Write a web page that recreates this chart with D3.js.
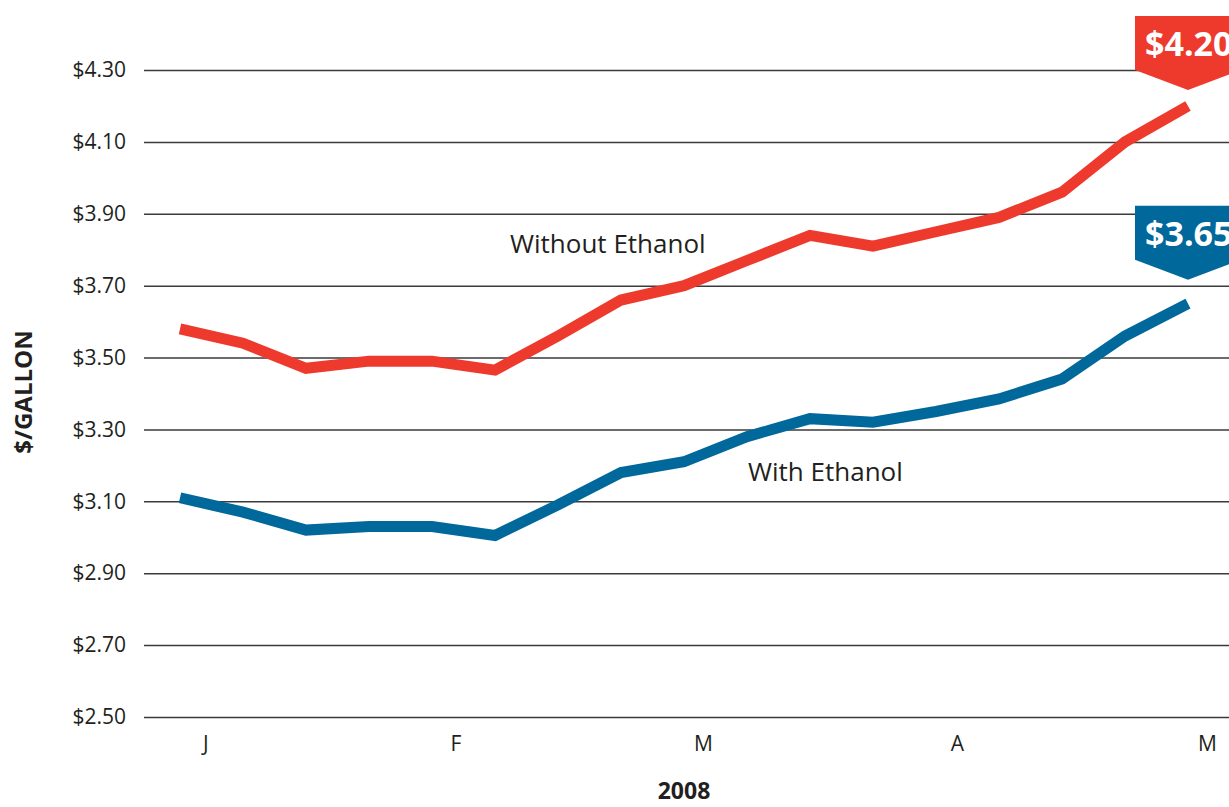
<!DOCTYPE html>
<html>
<head>
<meta charset="utf-8">
<script src="https://cdn.jsdelivr.net/npm/d3@7"></script>
<style>
  body { margin: 0; background: #fff; }
  svg { display: block; font-family: "Open Sans", "Noto Sans", sans-serif; }
</style>
</head>
<body>
<svg id="chart" width="1229" height="807"></svg>
<script>
// weekly prices, Jan - May 2008
const weeks = d3.range(17);
const withoutEthanol = [3.58, 3.54, 3.47, 3.49, 3.49, 3.465, 3.56, 3.66, 3.70, 3.77, 3.84, 3.81, 3.85, 3.89, 3.96, 4.10, 4.20];
const withEthanol = [3.11, 3.07, 3.02, 3.03, 3.03, 3.005, 3.09, 3.18, 3.21, 3.28, 3.33, 3.32, 3.35, 3.385, 3.44, 3.56, 3.65];
const yTicks = [2.50, 2.70, 2.90, 3.10, 3.30, 3.50, 3.70, 3.90, 4.10, 4.30];
const monthLabels = ['J', 'F', 'M', 'A', 'M'];
const monthAt = [0.4, 4.37, 8.3, 12.33, 16.3]; // week index where each month label sits

const RED = '#ee3a2d';
const BLUE = '#00689a';
const INK = '#231f20';
const FONT = '"Open Sans", "Noto Sans", sans-serif';

const svg = d3.select('#chart');

const x = d3.scaleLinear().domain([0, 16]).range([180, 1188]);
const y = d3.scaleLinear().domain([2.5, 4.3]).range([717, 70]);

// gridlines + y labels
const yAxis = d3.axisLeft(y)
  .tickValues(yTicks)
  .tickSize(-(1229 - 144))
  .tickPadding(18)
  .tickFormat(d => '$' + d.toFixed(2));

svg.append('g')
  .attr('transform', 'translate(144,0)')
  .call(yAxis)
  .attr('font-family', FONT)
  .attr('font-size', 21)
  .call(g => g.select('.domain').remove())
  .call(g => g.selectAll('.tick line').attr('stroke', '#3a3a3a').attr('stroke-width', 1.5))
  .call(g => g.selectAll('.tick text').attr('fill', INK).attr('x', -18));

// month labels
const xAxis = d3.axisBottom(x)
  .tickValues(monthAt)
  .tickSize(0)
  .tickPadding(19)
  .tickFormat((d, i) => monthLabels[i]);

svg.append('g')
  .attr('transform', 'translate(0,717)')
  .call(xAxis)
  .attr('font-family', FONT)
  .attr('font-size', 21)
  .call(g => g.select('.domain').remove())
  .call(g => g.selectAll('.tick text').attr('fill', INK));

// lines
const line = d3.line()
  .x((d, i) => x(weeks[i]))
  .y(d => y(d));

svg.append('path')
  .datum(withoutEthanol)
  .attr('d', line)
  .attr('fill', 'none')
  .attr('stroke', RED)
  .attr('stroke-width', 11);

svg.append('path')
  .datum(withEthanol)
  .attr('d', line)
  .attr('fill', 'none')
  .attr('stroke', BLUE)
  .attr('stroke-width', 11);

// series labels
svg.append('text')
  .attr('x', 510).attr('y', 253)
  .attr('font-size', 26)
  .attr('fill', INK)
  .text('Without Ethanol');

svg.append('text')
  .attr('x', 748).attr('y', 481)
  .attr('font-size', 26)
  .attr('fill', INK)
  .text('With Ethanol');

// end callouts
function callout(value, color, gap) {
  const cx = x(16);
  const tip = y(value) - gap;
  const bottom = tip - 20;
  const top = bottom - 54;
  const hw = 53;
  svg.append('path')
    .attr('d', `M${cx - hw},${top}H${cx + hw}V${bottom}L${cx},${tip}L${cx - hw},${bottom}Z`)
    .attr('fill', color);
  svg.append('text')
    .attr('x', cx - 43)
    .attr('y', bottom - 14)
    .attr('font-size', 34)
    .attr('font-weight', 'bold')
    .attr('fill', '#fff')
    .text('$' + value.toFixed(2));
}
callout(withoutEthanol[16], RED, 16);
callout(withEthanol[16], BLUE, 24);

// axis titles
svg.append('text')
  .attr('transform', 'translate(32,392) rotate(-90)')
  .attr('text-anchor', 'middle')
  .attr('font-size', 24)
  .attr('font-weight', 'bold')
  .attr('fill', INK)
  .text('$/GALLON');

svg.append('text')
  .attr('x', 684).attr('y', 799)
  .attr('text-anchor', 'middle')
  .attr('font-size', 23)
  .attr('font-weight', 'bold')
  .attr('fill', INK)
  .text('2008');
</script>
</body>
</html>
